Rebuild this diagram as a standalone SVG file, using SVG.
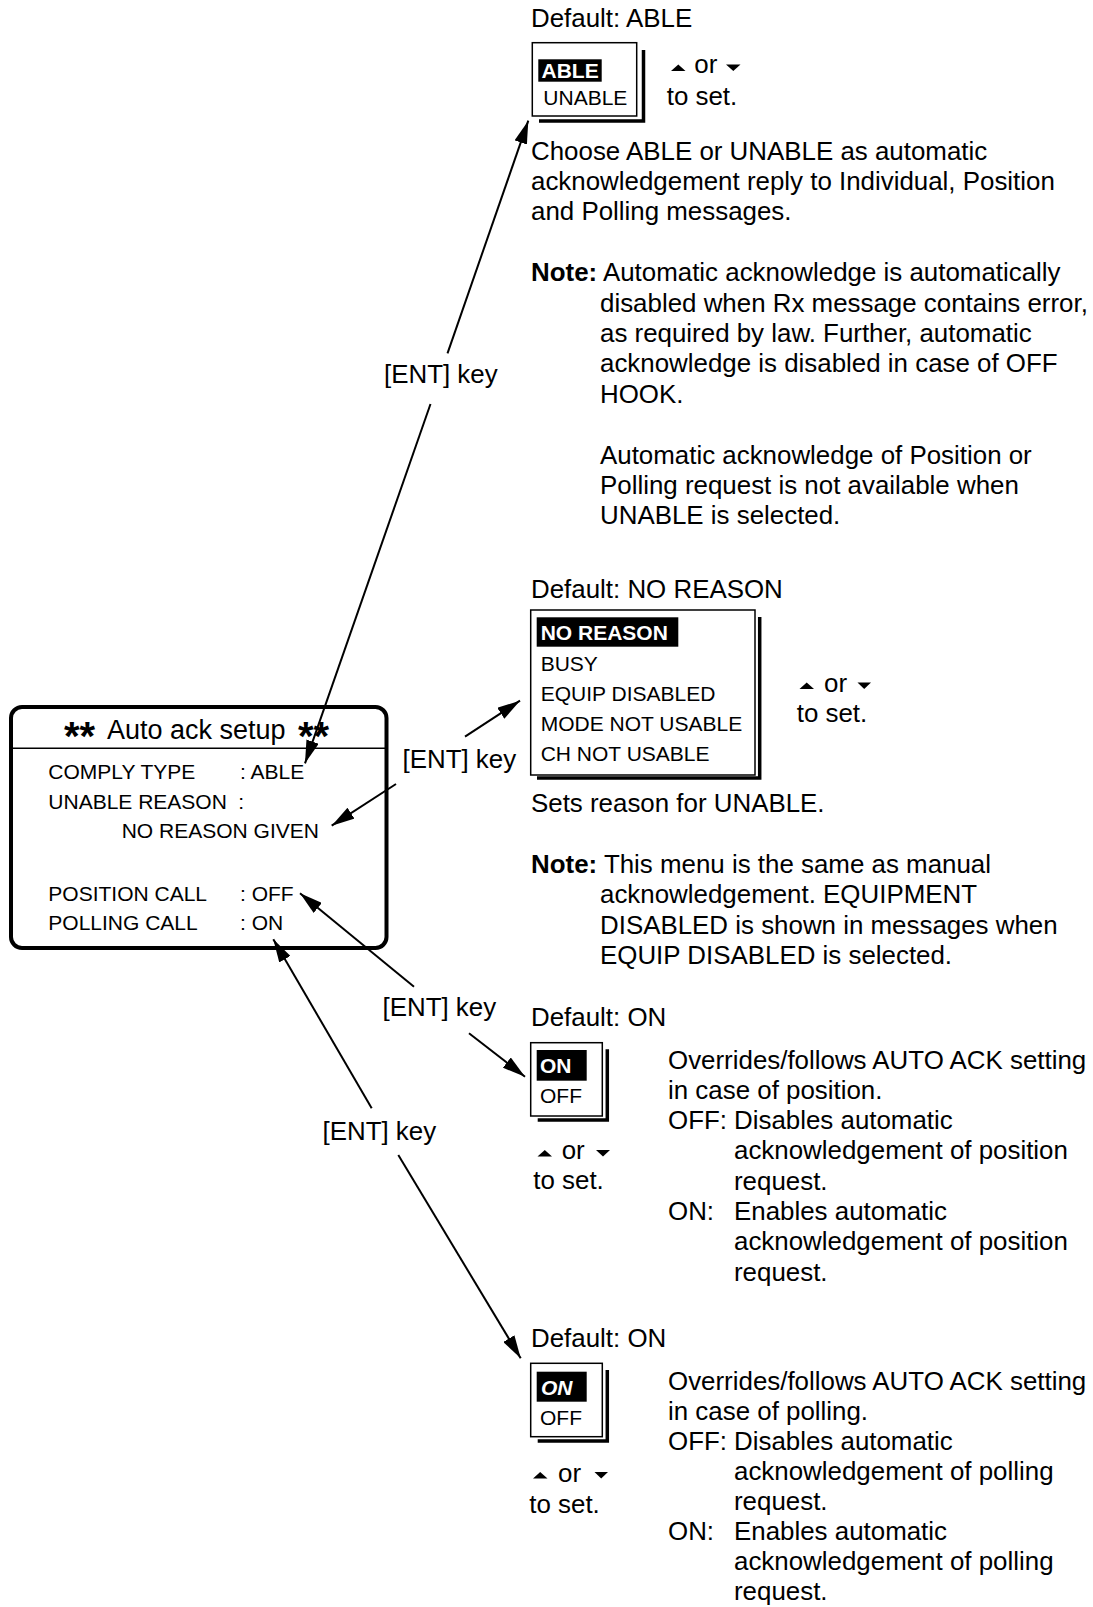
<svg xmlns="http://www.w3.org/2000/svg" width="1093" height="1607" viewBox="0 0 1093 1607">
<defs>
<style>
.t{font-family:"Liberation Sans",Arial,sans-serif;font-size:25.9px;fill:#000}
.s{font-size:21px}
.b{font-weight:bold}
.w{fill:#fff}
.box{fill:#fff;stroke:#000;stroke-width:1.5}
.sh{fill:none;stroke:#000;stroke-width:3.5}
.hl{fill:#000}
.conn{stroke:#000;stroke-width:2;fill:none;marker-end:url(#ah)}
.tri{fill:#000}
.ast{font-size:40px;font-weight:bold}
</style>
<marker id="ah" markerUnits="userSpaceOnUse" markerWidth="24" markerHeight="13" refX="23" refY="6.5" orient="auto">
<path d="M0,0 L23,6.5 L0,13 Z" fill="#000"/>
</marker>
</defs>
<rect width="1093" height="1607" fill="#fff"/>

<g id="main-menu">
<rect x="11" y="707" width="375.5" height="241" rx="11" ry="11" fill="#fff" stroke="#000" stroke-width="4"/>
<line x1="11" y1="748.3" x2="386.5" y2="748.3" stroke="#000" stroke-width="1.5"/>
<text class="t ast" x="64" y="749.5">**</text>
<text class="t" x="107" y="739.3" style="font-size:27px">Auto ack setup</text>
<text class="t ast" x="298" y="749.5">**</text>
<text class="t s" x="48.3" y="779.3">COMPLY TYPE<tspan x="240">: ABLE</tspan></text>
<text class="t s" x="48.3" y="809.3">UNABLE REASON<tspan x="238.3">:</tspan></text>
<text class="t s" x="121.7" y="838.3">NO REASON GIVEN</text>
<text class="t s" x="48.3" y="900.7">POSITION CALL<tspan x="240">: OFF</tspan></text>
<text class="t s" x="48.3" y="930">POLLING CALL<tspan x="240">: ON</tspan></text>
</g>

<g id="comply-type">
<text class="t" x="531" y="27.3">Default: ABLE</text>
<rect class="box" x="532.3" y="42.7" width="104.4" height="73.3"/>
<polyline class="sh" points="539,121 643.5,121 643.5,50"/>
<rect class="hl" x="538.3" y="59.3" width="63.4" height="22.4"/>
<text class="t s b w" x="541.5" y="77.5">ABLE</text>
<text class="t s" x="543.3" y="105">UNABLE</text>
<polygon class="tri" points="671,71 685.5,71 678.3,64.5"/>
<text class="t" x="694.3" y="73.3">or</text>
<polygon class="tri" points="726,64.5 740.5,64.5 733.3,71"/>
<text class="t" x="666.7" y="105">to set.</text>
<text class="t" x="531" y="159.5">Choose ABLE or UNABLE as automatic</text>
<text class="t" x="531" y="189.9">acknowledgement reply to Individual, Position</text>
<text class="t" x="531" y="220.3">and Polling messages.</text>
<text class="t" x="531" y="281.1"><tspan class="b">Note:</tspan> Automatic acknowledge is automatically</text>
<text class="t" x="600" y="311.5">disabled when Rx message contains error,</text>
<text class="t" x="600" y="341.9">as required by law. Further, automatic</text>
<text class="t" x="600" y="372.3">acknowledge is disabled in case of OFF</text>
<text class="t" x="600" y="402.7">HOOK.</text>
<text class="t" x="600" y="463.5">Automatic acknowledge of Position or</text>
<text class="t" x="600" y="493.9">Polling request is not available when</text>
<text class="t" x="600" y="524.3">UNABLE is selected.</text>
</g>

<g id="unable-reason">
<text class="t" x="531" y="598">Default: NO REASON</text>
<rect class="box" x="530.7" y="610" width="224.3" height="165"/>
<polyline class="sh" points="537,778 759.7,778 759.7,617"/>
<rect class="hl" x="536.7" y="617.3" width="141.6" height="29.4"/>
<text class="t s b w" x="540.7" y="640">NO REASON</text>
<text class="t s" x="540.7" y="670.5">BUSY</text>
<text class="t s" x="540.7" y="700.5">EQUIP DISABLED</text>
<text class="t s" x="540.7" y="730.5">MODE NOT USABLE</text>
<text class="t s" x="540.7" y="760.5">CH NOT USABLE</text>
<polygon class="tri" points="799.5,689 814,689 806.7,682.5"/>
<text class="t" x="824" y="691.7">or</text>
<polygon class="tri" points="857.5,682.5 871,682.5 864.2,689"/>
<text class="t" x="796.7" y="721.7">to set.</text>
<text class="t" x="531" y="811.5">Sets reason for UNABLE.</text>
<text class="t" x="531" y="873"><tspan class="b">Note:</tspan> This menu is the same as manual</text>
<text class="t" x="600" y="903.4">acknowledgement. EQUIPMENT</text>
<text class="t" x="600" y="933.8">DISABLED is shown in messages when</text>
<text class="t" x="600" y="964.2">EQUIP DISABLED is selected.</text>
</g>

<g id="position-call">
<text class="t" x="531" y="1025.5">Default: ON</text>
<rect class="box" x="530.7" y="1042.7" width="71.6" height="73.3"/>
<polyline class="sh" points="537.7,1120 607.3,1120 607.3,1049.3"/>
<rect class="hl" x="536.7" y="1050" width="50" height="30.7"/>
<text class="t s b w" x="540" y="1073.3">ON</text>
<text class="t s" x="540" y="1103.3">OFF</text>
<polygon class="tri" points="537.5,1156.5 552,1156.5 544.8,1150"/>
<text class="t" x="561.7" y="1158.8">or</text>
<polygon class="tri" points="596,1150 610,1150 603,1156.5"/>
<text class="t" x="533.3" y="1189">to set.</text>
<text class="t" x="668" y="1068.5">Overrides/follows AUTO ACK setting</text>
<text class="t" x="668" y="1098.8">in case of position.</text>
<text class="t" x="668" y="1129.1">OFF:<tspan x="734">Disables automatic</tspan></text>
<text class="t" x="734" y="1159.4">acknowledgement of position</text>
<text class="t" x="734" y="1189.7">request.</text>
<text class="t" x="668" y="1220">ON:<tspan x="734">Enables automatic</tspan></text>
<text class="t" x="734" y="1250.3">acknowledgement of position</text>
<text class="t" x="734" y="1280.6">request.</text>
</g>

<g id="polling-call">
<text class="t" x="531" y="1346.7">Default: ON</text>
<rect class="box" x="530.7" y="1363.3" width="71.6" height="73.4"/>
<polyline class="sh" points="537.7,1441 607.3,1441 607.3,1370"/>
<rect class="hl" x="536.7" y="1371.7" width="50" height="30"/>
<text class="t s b w" x="541" y="1395" font-style="italic">ON</text>
<text class="t s" x="540" y="1425">OFF</text>
<polygon class="tri" points="533,1478.5 547.5,1478.5 540.2,1472"/>
<text class="t" x="558" y="1481.7">or</text>
<polygon class="tri" points="594.5,1472 608,1472 601.2,1478.5"/>
<text class="t" x="529.3" y="1512.7">to set.</text>
<text class="t" x="668" y="1389.5">Overrides/follows AUTO ACK setting</text>
<text class="t" x="668" y="1419.5">in case of polling.</text>
<text class="t" x="668" y="1449.5">OFF:<tspan x="734">Disables automatic</tspan></text>
<text class="t" x="734" y="1479.5">acknowledgement of polling</text>
<text class="t" x="734" y="1509.5">request.</text>
<text class="t" x="668" y="1539.5">ON:<tspan x="734">Enables automatic</tspan></text>
<text class="t" x="734" y="1569.5">acknowledgement of polling</text>
<text class="t" x="734" y="1599.5">request.</text>
</g>

<g id="connectors">
<line class="conn" x1="447.5" y1="353.3" x2="528.3" y2="120.7"/>
<line class="conn" x1="430.5" y1="404" x2="305" y2="763.3"/>
<text class="t" x="384" y="382.5">[ENT] key</text>
<line class="conn" x1="465" y1="736.7" x2="520" y2="700.7"/>
<line class="conn" x1="396" y1="784" x2="331.7" y2="825.7"/>
<text class="t" x="402.5" y="767.8">[ENT] key</text>
<line class="conn" x1="414" y1="986.7" x2="300" y2="893.3"/>
<line class="conn" x1="469" y1="1033.3" x2="525" y2="1076.7"/>
<text class="t" x="382.5" y="1016">[ENT] key</text>
<line class="conn" x1="371.7" y1="1108.3" x2="273.3" y2="939.3"/>
<line class="conn" x1="398.3" y1="1155" x2="520.7" y2="1358.3"/>
<text class="t" x="322.5" y="1139.5">[ENT] key</text>
</g>
</svg>
